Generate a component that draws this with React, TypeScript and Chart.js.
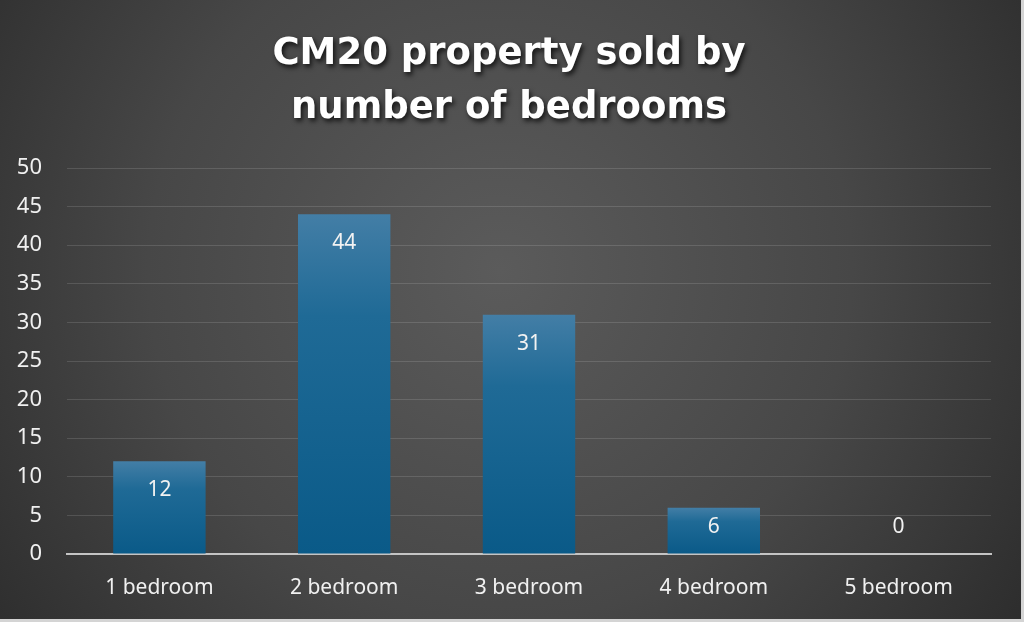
import React, { useEffect, useRef } from "react";
import { Chart, registerables } from "chart.js";

Chart.register(...registerables);

const categories = ["1 bedroom", "2 bedroom", "3 bedroom", "4 bedroom", "5 bedroom"];
const soldCounts = [12, 44, 31, 6, 0];
const titleLines = ["CM20 property sold by", "number of bedrooms"];
const yMin = 0;
const yMax = 50;
const yStep = 5;

const bgPlugin = {
  id: "bgPlugin",
  beforeDraw(chart: any) {
    const { ctx, width, height } = chart;
    ctx.save();
    ctx.fillStyle = "#d4d4d4";
    ctx.fillRect(0, 0, width, height);
    const g = ctx.createRadialGradient(500, 270, 0, 500, 270, 640);
    g.addColorStop(0, "#5b5b5b");
    g.addColorStop(0.55, "#474747");
    g.addColorStop(1, "#2c2c2c");
    ctx.fillStyle = g;
    ctx.fillRect(0, 0, width - 3, height - 3);
    ctx.restore();
  },
};

const titlePlugin = {
  id: "titlePlugin",
  afterDraw(chart: any) {
    const { ctx } = chart;
    ctx.save();
    ctx.font = "bold 37px 'DejaVu Sans'";
    ctx.textAlign = "center";
    ctx.textBaseline = "alphabetic";
    ctx.fillStyle = "#ffffff";
    ctx.shadowColor = "rgba(0,0,0,0.75)";
    ctx.shadowBlur = 5;
    ctx.shadowOffsetX = 2;
    ctx.shadowOffsetY = 3;
    titleLines.forEach((line, i) => {
      ctx.fillText(line, 509, 64 + i * 54);
    });
    ctx.restore();
  },
};

const labelPlugin = {
  id: "labelPlugin",
  afterDatasetsDraw(chart: any) {
    const { ctx } = chart;
    const meta = chart.getDatasetMeta(0);
    const base = chart.scales.y.getPixelForValue(0);
    ctx.save();
    ctx.font = "21px 'Noto Sans'";
    ctx.textAlign = "center";
    ctx.textBaseline = "middle";
    ctx.fillStyle = "#f2f2f2";
    meta.data.forEach((bar: any, i: number) => {
      const y = Math.min(bar.y + 29, base - 27);
      ctx.fillText(String(soldCounts[i]), bar.x, y);
    });
    ctx.restore();
  },
};

export default function App() {
  const ref = useRef<HTMLCanvasElement>(null);
  useEffect(() => {
    document.body.style.margin = "0";
    const canvas = ref.current!;
    const chart = new Chart(canvas, {
      type: "bar",
      data: {
        labels: categories,
        datasets: [
          {
            data: soldCounts,
            backgroundColor: (c: any) => {
              const ch = c.chart;
              const ys = ch.scales && ch.scales.y;
              if (!ys || c.type !== "data") return "#1a6690";
              const top = ys.getPixelForValue(c.raw);
              const bot = ys.getPixelForValue(0);
              if (!isFinite(top) || !isFinite(bot) || bot - top < 1) return "#1a6690";
              const g = ch.ctx.createLinearGradient(0, top, 0, bot);
              g.addColorStop(0, "#437ea6");
              g.addColorStop(0.3, "#1f6a96");
              g.addColorStop(1, "#0a5a88");
              return g;
            },
            borderWidth: 0,
            barPercentage: 0.5,
            categoryPercentage: 1,
          },
        ],
      },
      options: {
        responsive: false,
        animation: false,
        layout: { padding: { top: 168, left: 17, right: 33, bottom: 22 } },
        plugins: {
          legend: { display: false },
          title: { display: false },
          tooltip: { enabled: false },
        },
        scales: {
          x: {
            afterFit: (s: any) => {
              s.height = 46;
            },
            grid: { display: false, drawTicks: false },
            border: { display: true, color: "#c4c4c4", width: 2 },
            ticks: {
              color: "#f0f0f0",
              font: { family: "'Noto Sans'", size: 21 },
              padding: 21,
            },
          },
          y: {
            min: yMin,
            max: yMax,
            afterFit: (s: any) => {
              s.width = 50;
            },
            grid: { color: "rgba(255,255,255,0.13)", lineWidth: 1, drawTicks: false },
            border: { display: false },
            ticks: {
              stepSize: yStep,
              color: "#f0f0f0",
              font: { family: "'Noto Sans'", size: 22 },
              padding: 25,
            },
          },
        },
      },
      plugins: [bgPlugin, titlePlugin, labelPlugin],
    });
    return () => chart.destroy();
  }, []);
  return <canvas ref={ref} width={1024} height={622} style={{ display: "block" }} />;
}
